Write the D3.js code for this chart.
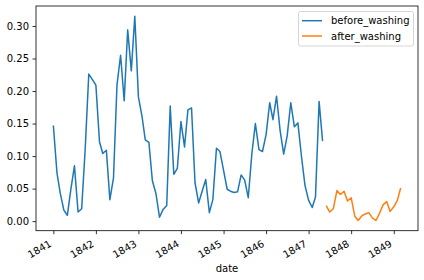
<!DOCTYPE html>
<html>
<head>
<meta charset="utf-8">
<script src="https://cdn.jsdelivr.net/npm/d3@7"></script>
<style>
  body { margin: 0; background: #fff; }
  svg text { font-family: "DejaVu Sans", sans-serif; font-size: 10px; fill: #000; }
</style>
</head>
<body>
<div id="chart"></div>
<script>
// monthly proportion of deaths, clinic 1
const beforeDates = [
    '1841-01', '1841-02', '1841-03', '1841-04', '1841-05', '1841-06', '1841-07', '1841-08', '1841-09', '1841-10', '1841-11', '1841-12',
    '1842-01', '1842-02', '1842-03', '1842-04', '1842-05', '1842-06', '1842-07', '1842-08', '1842-09', '1842-10', '1842-11', '1842-12',
    '1843-01', '1843-02', '1843-03', '1843-04', '1843-05', '1843-06', '1843-07', '1843-08', '1843-09', '1843-10', '1843-11', '1843-12',
    '1844-01', '1844-02', '1844-03', '1844-04', '1844-05', '1844-06', '1844-07', '1844-08', '1844-09', '1844-10', '1844-11', '1844-12',
    '1845-01', '1845-02', '1845-03', '1845-04', '1845-05', '1845-06', '1845-07', '1845-08', '1845-09', '1845-10', '1845-11', '1845-12',
    '1846-01', '1846-02', '1846-03', '1846-04', '1846-05', '1846-06', '1846-07', '1846-08', '1846-09', '1846-10', '1846-11', '1846-12',
    '1847-01', '1847-02', '1847-03', '1847-04', '1847-05'
];
const beforeWashing = [
    0.147, 0.074, 0.043, 0.017, 0.009, 0.050, 0.085, 0.014, 0.019, 0.110, 0.226, 0.218,
    0.209, 0.122, 0.104, 0.109, 0.033, 0.066, 0.209, 0.255, 0.185, 0.294, 0.231, 0.315,
    0.191, 0.161, 0.125, 0.121, 0.062, 0.042, 0.006, 0.018, 0.024, 0.177, 0.072, 0.081,
    0.153, 0.114, 0.171, 0.174, 0.059, 0.028, 0.046, 0.064, 0.013, 0.033, 0.112, 0.107,
    0.078, 0.049, 0.046, 0.044, 0.045, 0.071, 0.063, 0.036, 0.104, 0.150, 0.110, 0.107,
    0.133, 0.182, 0.156, 0.192, 0.140, 0.103, 0.131, 0.182, 0.145, 0.151, 0.099, 0.055,
    0.032, 0.021, 0.037, 0.184, 0.123
];

const afterDates = [
    '1847-06', '1847-07', '1847-08', '1847-09', '1847-10', '1847-11', '1847-12',
    '1848-01', '1848-02', '1848-03', '1848-04', '1848-05', '1848-06', '1848-07', '1848-08', '1848-09', '1848-10', '1848-11', '1848-12',
    '1849-01', '1849-02', '1849-03'
];
const afterWashing = [
    0.024, 0.014, 0.019, 0.047, 0.041, 0.046, 0.031,
    0.036, 0.008, 0.001, 0.008, 0.011, 0.013, 0.005, 0.001, 0.012, 0.025, 0.030, 0.015,
    0.022, 0.032, 0.051
];

const yearLabels = ['1841', '1842', '1843', '1844', '1845', '1846', '1847', '1848', '1849'];
const yTicks = [0.00, 0.05, 0.10, 0.15, 0.20, 0.25, 0.30];
const seriesNames = ['before_washing', 'after_washing'];
const colors = ['#1f77b4', '#ff7f0e'];

const width = 424;
const height = 280;
const margin = { top: 6, right: 6, bottom: 49.3, left: 36 };

const parseMonth = d3.utcParse('%Y-%m');
const series = [
    beforeDates.map((d, i) => ({ date: parseMonth(d), value: beforeWashing[i] })),
    afterDates.map((d, i) => ({ date: parseMonth(d), value: afterWashing[i] }))
];

const svg = d3.select('#chart')
    .append('svg')
    .attr('width', width)
    .attr('height', height);

// matplotlib-style 5% padding on both axes
const allPoints = series.flat();
const [t0, t1] = d3.extent(allPoints, d => d.date);
const tPad = (t1 - t0) * 0.05;
const [v0, v1] = d3.extent(allPoints, d => d.value);
const vPad = (v1 - v0) * 0.05;

const x = d3.scaleUtc()
    .domain([new Date(+t0 - tPad), new Date(+t1 + tPad)])
    .range([margin.left, width - margin.right]);

const y = d3.scaleLinear()
    .domain([v0 - vPad, v1 + vPad])
    .range([height - margin.bottom, margin.top]);

const plotBottom = height - margin.bottom;

// y axis
const yAxis = svg.append('g')
    .attr('transform', `translate(${margin.left},0)`)
    .call(d3.axisLeft(y).tickValues(yTicks).tickFormat(d3.format('.2f')).tickSize(3.5).tickPadding(3.5));

// x axis
const xAxis = svg.append('g')
    .attr('transform', `translate(0,${plotBottom})`)
    .call(d3.axisBottom(x)
        .tickValues(yearLabels.map(d => d3.utcParse('%Y')(d)))
        .tickFormat(d3.utcFormat('%Y'))
        .tickSize(3.5));

[yAxis, xAxis].forEach(ax => {
    ax.select('.domain').remove();
    ax.selectAll('.tick line').attr('stroke', '#000').attr('stroke-width', 0.8);
    ax.selectAll('text').attr('font-family', null).attr('font-size', null);
});

// rotated date labels, right aligned
xAxis.selectAll('.tick text')
    .attr('text-anchor', 'end')
    .attr('dy', 0)
    .attr('y', 0)
    .attr('transform', 'translate(-1.5,15) rotate(-30)');

// lines
const line = d3.line()
    .x(d => x(d.date))
    .y(d => y(d.value));

series.forEach((s, i) => {
    svg.append('path')
        .datum(s)
        .attr('fill', 'none')
        .attr('stroke', colors[i])
        .attr('stroke-width', 1.5)
        .attr('stroke-linejoin', 'round')
        .attr('d', line);
});

// frame
svg.append('rect')
    .attr('x', margin.left)
    .attr('y', margin.top)
    .attr('width', width - margin.left - margin.right)
    .attr('height', plotBottom - margin.top)
    .attr('fill', 'none')
    .attr('stroke', '#000')
    .attr('stroke-width', 0.8);

// x label
svg.append('text')
    .attr('x', (margin.left + width - margin.right) / 2)
    .attr('y', 272)
    .attr('text-anchor', 'middle')
    .text('date');

// legend
const legend = svg.append('g');
legend.append('rect')
    .attr('x', 298.5)
    .attr('y', 11.5)
    .attr('width', 115)
    .attr('height', 34.5)
    .attr('rx', 2)
    .attr('fill', '#fff')
    .attr('stroke', '#d6d6d6')
    .attr('stroke-width', 1);

seriesNames.forEach((name, i) => {
    const ly = 20.7 + i * 15.3;
    legend.append('line')
        .attr('x1', 302).attr('x2', 322)
        .attr('y1', ly).attr('y2', ly)
        .attr('stroke', colors[i])
        .attr('stroke-width', 1.5);
    legend.append('text')
        .attr('x', 331)
        .attr('y', ly + 3.6)
        .text(name);
});
</script>
</body>
</html>
